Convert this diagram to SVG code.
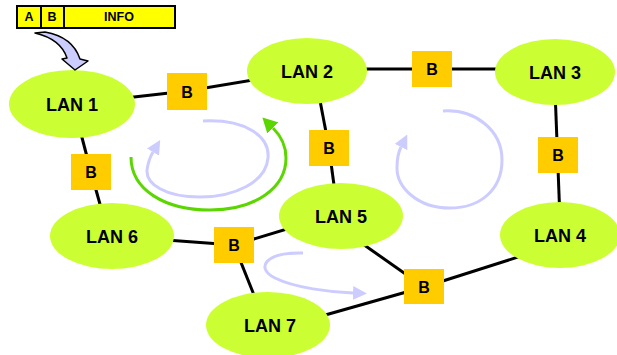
<svg xmlns="http://www.w3.org/2000/svg" width="617" height="355" viewBox="0 0 617 355">
<style>
.lan{fill:#CCFF33}
.br{fill:#FFCC00}
.t{font-family:"Liberation Sans",Arial,sans-serif;font-weight:bold;fill:#000;text-anchor:middle;dominant-baseline:central}
.lt{font-size:18px}
.bt{font-size:16px}
.ht{font-size:12.5px}
.ln{stroke:#000;stroke-width:3;fill:none}
.lav{stroke:#CCCCFF;stroke-width:3;fill:none}
.grn{stroke:#5CD600;stroke-width:3;fill:none}
.hc{fill:#FFFF00;stroke:#000;stroke-width:2}
</style>
<defs>
<marker id="ml" markerUnits="userSpaceOnUse" markerWidth="14" markerHeight="14" refX="0" refY="7" orient="auto"><path d="M0,0 L14,7 L0,14 z" fill="#CCCCFF"/></marker>
<marker id="mg" markerUnits="userSpaceOnUse" markerWidth="16" markerHeight="16" refX="0" refY="8" orient="auto"><path d="M0,0 L15,8 L0,16 z" fill="#5CD600"/></marker>
</defs>
<g id="connectors">
<line class="ln" x1="72" y1="104" x2="187" y2="91"/>
<line class="ln" x1="187" y1="91" x2="307" y2="71"/>
<line class="ln" x1="307" y1="69" x2="555" y2="69"/>
<line class="ln" x1="318" y1="90" x2="329" y2="148"/>
<line class="ln" x1="329" y1="148" x2="336" y2="200"/>
<line class="ln" x1="555" y1="90" x2="560" y2="220"/>
<line class="ln" x1="80" y1="130" x2="91" y2="172"/>
<line class="ln" x1="91" y1="172" x2="103" y2="215"/>
<line class="ln" x1="112" y1="236" x2="234" y2="245"/>
<line class="ln" x1="234" y1="245" x2="310" y2="222"/>
<line class="ln" x1="234" y1="245" x2="260" y2="310"/>
<line class="ln" x1="350" y1="235" x2="424" y2="287"/>
<line class="ln" x1="424" y1="287" x2="540" y2="250"/>
<line class="ln" x1="424" y1="287" x2="290" y2="325"/>
</g>
<g id="lan1"><ellipse class="lan" cx="72" cy="104" rx="63" ry="34"/><text class="t lt" x="72" y="105">LAN 1</text></g>
<g id="lan2"><ellipse class="lan" cx="307" cy="71" rx="60" ry="33"/><text class="t lt" x="307" y="72">LAN 2</text></g>
<g id="lan3"><ellipse class="lan" cx="555" cy="72" rx="60" ry="33"/><text class="t lt" x="555" y="73">LAN 3</text></g>
<g id="lan4"><ellipse class="lan" cx="560" cy="235" rx="60" ry="33"/><text class="t lt" x="560" y="236">LAN 4</text></g>
<g id="lan5"><ellipse class="lan" cx="341" cy="216" rx="62" ry="33"/><text class="t lt" x="341" y="217">LAN 5</text></g>
<g id="lan6"><ellipse class="lan" cx="112" cy="236" rx="62" ry="33"/><text class="t lt" x="112" y="237">LAN 6</text></g>
<g id="lan7"><ellipse class="lan" cx="268" cy="325" rx="62" ry="33"/><text class="t lt" x="270" y="326">LAN 7</text></g>
<g id="b1"><rect class="br" x="167" y="73" width="40" height="37"/><text class="t bt" x="187" y="92">B</text></g>
<g id="b2"><rect class="br" x="412" y="51" width="40" height="36"/><text class="t bt" x="432" y="69">B</text></g>
<g id="b3"><rect class="br" x="309" y="130" width="40" height="36"/><text class="t bt" x="329" y="148">B</text></g>
<g id="b4"><rect class="br" x="538" y="137" width="40" height="36"/><text class="t bt" x="558" y="155">B</text></g>
<g id="b5"><rect class="br" x="71" y="154" width="40" height="36"/><text class="t bt" x="91" y="172">B</text></g>
<g id="b6"><rect class="br" x="214" y="227" width="40" height="36"/><text class="t bt" x="234" y="245">B</text></g>
<g id="b7"><rect class="br" x="404" y="269" width="40" height="35"/><text class="t bt" x="424" y="287">B</text></g>
<g id="rotations">
<path class="lav" d="M203,121 C245,119 270,136 268,158 C266,182 235,197 200,197 C165,197 146,184 147,170 C148,163 150,157 153,152" marker-end="url(#ml)"/>
<path class="grn" d="M131,157 C131,190 165,210 210,210 C255,210 286,188 286,158 C286,146 281,136 273,128" marker-end="url(#mg)"/>
<path class="lav" d="M443,111 C475,109 502,130 502,160 C502,190 480,208 450,208 C418,208 397,188 397,168 C397,160 398,153 401,147" marker-end="url(#ml)"/>
<path class="lav" d="M303,253 C265,252 255,268 275,278 C295,288 330,292 353,293" marker-end="url(#ml)"/>
</g>
<g id="header">
<rect class="hc" x="17" y="6" width="24" height="22"/>
<rect class="hc" x="41" y="6" width="23" height="22"/>
<rect class="hc" x="64" y="6" width="111" height="22"/>
<text class="t ht" x="29" y="17">A</text>
<text class="t ht" x="52" y="17">B</text>
<text class="t ht" x="119" y="17">INFO</text>
<path d="M35,33 C52,37 63,46 67,58 L62,59 L75,70 L88,61 L80,59 C75,44 62,35 45,32 Z" fill="#CCCCFF" stroke="#000" stroke-width="1.5" stroke-linejoin="round"/>
</g>
</svg>
